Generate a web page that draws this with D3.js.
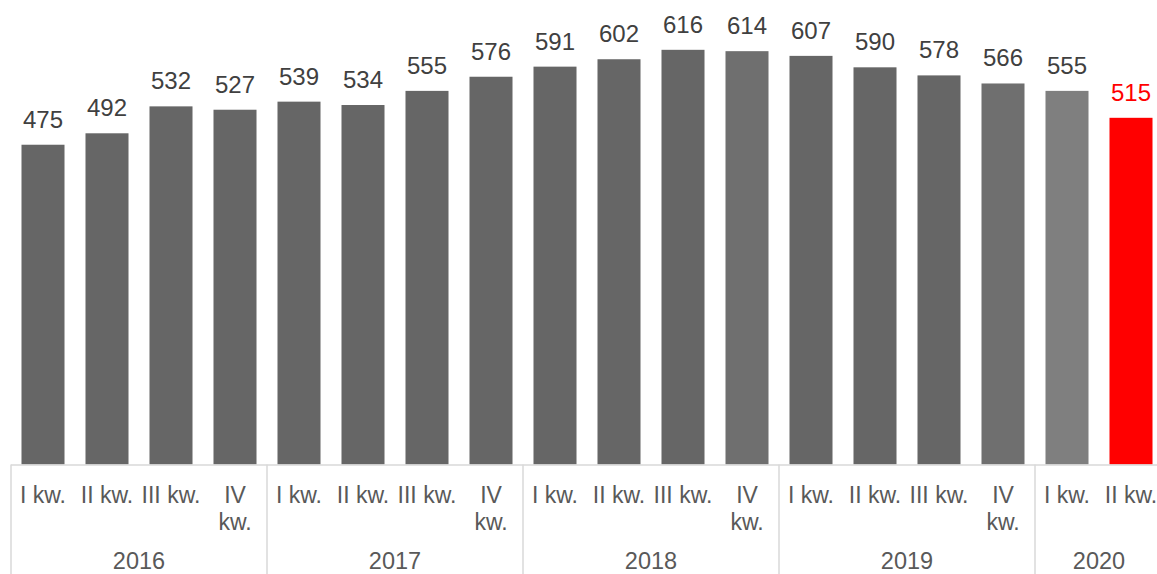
<!DOCTYPE html>
<html>
<head>
<meta charset="utf-8">
<script src="https://cdn.jsdelivr.net/npm/d3@7"></script>
<style>
  html, body { margin: 0; padding: 0; background: #fff; }
  svg { display: block; font-family: Arial, "Liberation Sans", sans-serif; }
</style>
</head>
<body>
<svg id="chart" width="1157" height="574"></svg>
<script>
const years = ["2016", "2017", "2018", "2019", "2020"];
const quarters = [
  ["I kw.", "II kw.", "III kw.", "IV kw."],
  ["I kw.", "II kw.", "III kw.", "IV kw."],
  ["I kw.", "II kw.", "III kw.", "IV kw."],
  ["I kw.", "II kw.", "III kw.", "IV kw."],
  ["I kw.", "II kw."]
];
const values = [475, 492, 532, 527, 539, 534, 555, 576, 591, 602, 616, 614, 607, 590, 578, 566, 555, 515];
const barColors = ["#666666", "#666666", "#666666", "#666666",
                   "#666666", "#666666", "#666666", "#666666",
                   "#666666", "#666666", "#666666", "#6f6f6f",
                   "#666666", "#666666", "#666666", "#6f6f6f",
                   "#7f7f7f", "#ff0000"];
const labelColors = values.map((v, i) => i === values.length - 1 ? "#ff0000" : "#404040");

// build flat category list
const cats = [];
years.forEach((y, yi) => quarters[yi].forEach((q, qi) => cats.push({ id: y + "-" + qi, year: y, q })));

const svg = d3.select("#chart");
const left = 11, step = 64;
const x = d3.scaleBand()
  .domain(cats.map(c => c.id))
  .range([left, left + step * cats.length])
  .paddingInner(0.328)
  .paddingOuter(0.164);
const baseY = 464.5;
const y = d3.scaleLinear().domain([0, 690]).range([baseY, 0]);

// bars
svg.append("g").selectAll("rect").data(cats).join("rect")
  .attr("x", d => x(d.id))
  .attr("width", x.bandwidth())
  .attr("y", (d, i) => y(values[i]))
  .attr("height", (d, i) => baseY - y(values[i]))
  .attr("fill", (d, i) => barColors[i]);

// value labels
svg.append("g").selectAll("text").data(cats).join("text")
  .attr("x", d => x(d.id) + x.bandwidth() / 2)
  .attr("y", (d, i) => y(values[i]) - 17)
  .attr("text-anchor", "middle")
  .attr("font-size", 24)
  .attr("fill", (d, i) => labelColors[i])
  .text((d, i) => values[i]);

// axis line
const axisColor = "#d9d9d9";
const xEnd = left + step * cats.length;
svg.append("line")
  .attr("x1", left).attr("x2", xEnd)
  .attr("y1", baseY + 0.5).attr("y2", baseY + 0.5)
  .attr("stroke", axisColor).attr("stroke-width", 1.5);

// year dividers
let idx = 0;
const bounds = [0];
quarters.forEach(q => { idx += q.length; bounds.push(idx); });
svg.append("g").selectAll("line").data(bounds).join("line")
  .attr("x1", b => left + b * step).attr("x2", b => left + b * step)
  .attr("y1", baseY).attr("y2", 574)
  .attr("stroke", axisColor).attr("stroke-width", 1.5);

// quarter labels
const ql = svg.append("g").selectAll("text").data(cats).join("text")
  .attr("text-anchor", "middle")
  .attr("font-size", 23)
  .attr("fill", "#595959");
ql.each(function(d) {
  const t = d3.select(this);
  const cx = x(d.id) + x.bandwidth() / 2;
  if (d.q === "IV kw.") {
    t.append("tspan").attr("x", cx).attr("y", 503).text("IV");
    t.append("tspan").attr("x", cx).attr("y", 530).text("kw.");
  } else {
    t.append("tspan").attr("x", cx).attr("y", 503).text(d.q);
  }
});

// year labels
svg.append("g").selectAll("text").data(years).join("text")
  .attr("x", (d, i) => left + (bounds[i] + bounds[i + 1]) / 2 * step)
  .attr("y", 569)
  .attr("text-anchor", "middle")
  .attr("font-size", 23.5)
  .attr("fill", "#595959")
  .text(d => d);
</script>
</body>
</html>
